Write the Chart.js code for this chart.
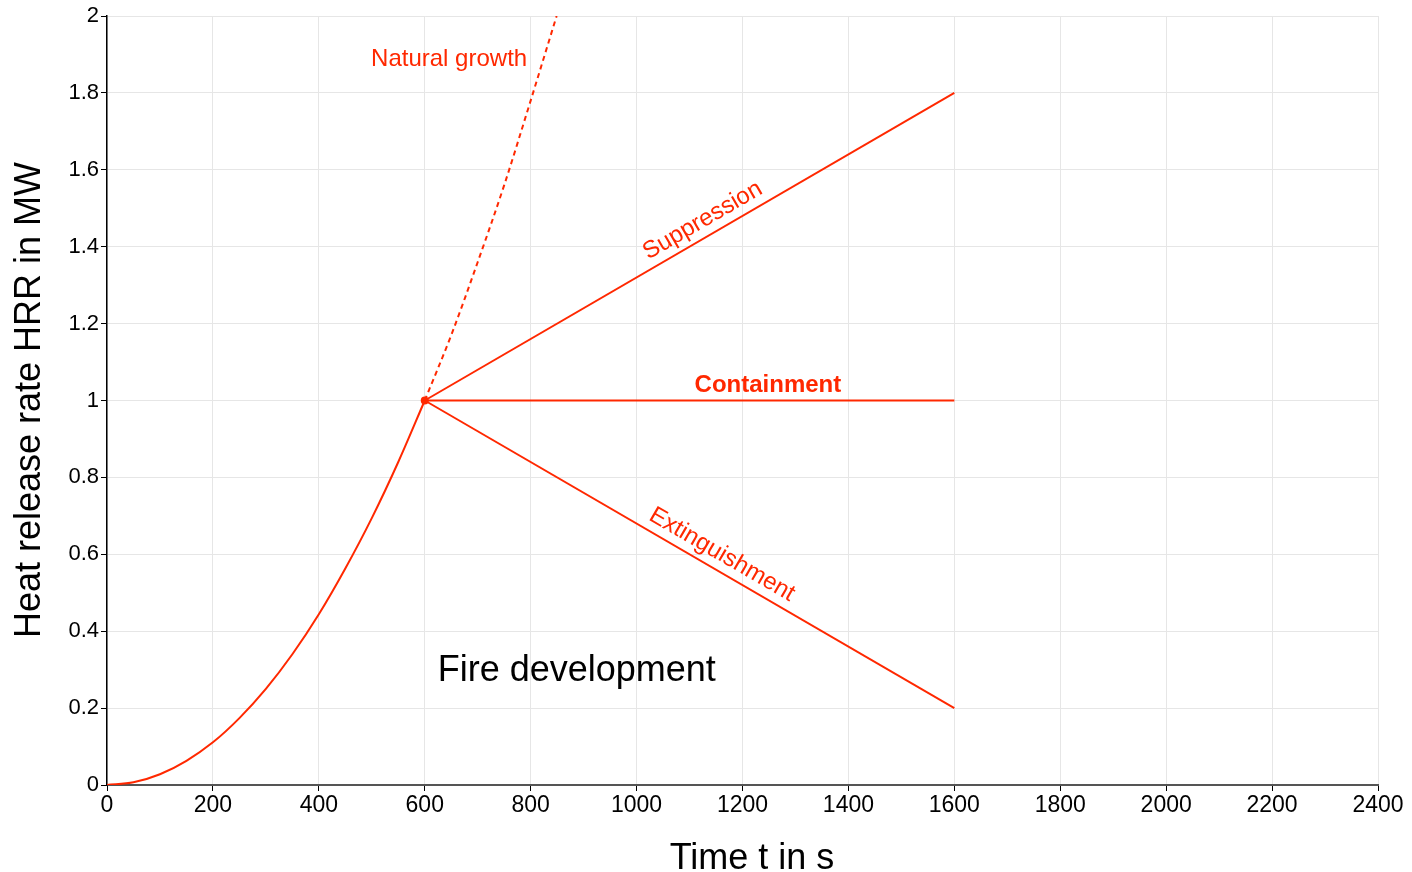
<!DOCTYPE html>
<html>
<head>
<meta charset="utf-8">
<script src="https://cdn.jsdelivr.net/npm/chart.js@4/dist/chart.umd.min.js"></script>
<style>
html,body{margin:0;padding:0;background:#fff;}
#wrap{width:1412px;height:872px;position:relative;}
</style>
</head>
<body>
<div id="wrap"><canvas id="c" width="1412" height="872"></canvas></div>
<script>
// ---- data ----
const growthT   = [0, 50, 100, 150, 200, 250, 300, 350, 400, 450, 500, 550, 600];
const growthHRR = [0, 0.007, 0.028, 0.063, 0.111, 0.174, 0.25, 0.34, 0.444, 0.563, 0.694, 0.84, 1.0];
const naturalT   = [600, 650, 700, 750, 800, 849];
const naturalHRR = [1.0, 1.17, 1.36, 1.56, 1.78, 2.0];
const suppressionT   = [600, 1600];
const suppressionHRR = [1.0, 1.8];
const containmentT   = [600, 1600];
const containmentHRR = [1.0, 1.0];
const extinguishT   = [600, 1600];
const extinguishHRR = [1.0, 0.2];
const pointT = [600];
const pointHRR = [1.0];
const xTicks = [0, 200, 400, 600, 800, 1000, 1200, 1400, 1600, 1800, 2000, 2200, 2400];
const yTicks = [0, 0.2, 0.4, 0.6, 0.8, 1, 1.2, 1.4, 1.6, 1.8, 2];
const xTitle = 'Time t in s';
const yTitle = 'Heat release rate HRR in MW';

const RED = 'rgb(255,40,0)';
const FONT = '"Liberation Sans", Arial, sans-serif';

function pts(xs, ys){ return xs.map((x,i)=>({x:x, y:ys[i]})); }

function lineDs(xs, ys, extra){
  return Object.assign({
    data: pts(xs, ys), borderColor: RED, backgroundColor: RED,
    borderWidth: 2, pointRadius: 0, fill: false
  }, extra || {});
}

function onLine(xs, ys, t){ return ys[0] + (ys[1]-ys[0])*(t-xs[0])/(xs[1]-xs[0]); }

// text annotations (anchored in data coordinates)
const annotations = [
  {text:'Natural growth', x:646, y:1.886, size:24, bold:false, color:RED},
  {text:'Suppression', x:1140, y:onLine(suppressionT, suppressionHRR, 1140), size:24, bold:false, color:RED, along:[suppressionT, suppressionHRR], off:4},
  {text:'Containment', x:1248, y:1.0, size:24, bold:true, color:RED, along:[containmentT, containmentHRR], off:3},
  {text:'Extinguishment', x:1146, y:onLine(extinguishT, extinguishHRR, 1146), size:24, bold:false, color:RED, along:[extinguishT, extinguishHRR], off:4},
  {text:'Fire development', x:887, y:0.297, size:36, bold:false, color:'#000'}
];

const textPlugin = {
  id:'texts',
  afterDatasetsDraw(chart){
    const ctx = chart.ctx, xs = chart.scales.x, ys = chart.scales.y;
    ctx.save();
    annotations.forEach(a=>{
      ctx.font = (a.bold?'bold ':'') + a.size + 'px ' + FONT;
      ctx.fillStyle = a.color;
      const px = xs.getPixelForValue(a.x), py = ys.getPixelForValue(a.y);
      ctx.save();
      ctx.translate(px, py);
      if (a.along){
        const [lx, ly] = a.along;
        const dx = xs.getPixelForValue(lx[1]) - xs.getPixelForValue(lx[0]);
        const dy = ys.getPixelForValue(ly[1]) - ys.getPixelForValue(ly[0]);
        ctx.rotate(Math.atan2(dy, dx));
        ctx.textAlign = 'center'; ctx.textBaseline = 'bottom';
        ctx.fillText(a.text, 0, -a.off);
      } else {
        ctx.textAlign = 'center'; ctx.textBaseline = 'middle';
        ctx.fillText(a.text, 0, 0);
      }
      ctx.restore();
    });
    // axis titles
    ctx.fillStyle = '#000';
    ctx.font = '36px ' + FONT;
    ctx.textAlign = 'center'; ctx.textBaseline = 'middle';
    ctx.fillText(xTitle, 752, 859);
    ctx.save();
    ctx.translate(30, 400);
    ctx.rotate(-Math.PI/2);
    ctx.fillText(yTitle, 0, 0);
    ctx.restore();
    ctx.restore();
  }
};

new Chart(document.getElementById('c'), {
  type:'line',
  data:{
    datasets:[
      lineDs(growthT, growthHRR, {cubicInterpolationMode:'monotone'}),
      lineDs(naturalT, naturalHRR, {cubicInterpolationMode:'monotone', borderDash:[5,4]}),
      lineDs(suppressionT, suppressionHRR),
      lineDs(containmentT, containmentHRR),
      lineDs(extinguishT, extinguishHRR),
      lineDs(pointT, pointHRR, {pointRadius:4, pointBorderWidth:0, showLine:false})
    ]
  },
  options:{
    responsive:false, animation:false,
    layout:{padding:{left:0, right:34, top:16, bottom:0}},
    plugins:{legend:{display:false}, tooltip:{enabled:false}},
    scales:{
      x:{
        type:'linear', min:0, max:2400,
        afterBuildTicks(s){ s.ticks = xTicks.map(v=>({value:v})); },
        afterFit(s){ s.height = 87; },
        grid:{color:'#e6e6e6', lineWidth:1, tickLength:6, tickColor:'#000', drawTicks:true},
        border:{color:'#555', width:2},
        ticks:{color:'#000', font:{family:FONT, size:23}, padding:1, maxRotation:0, autoSkip:false,
          callback:v=>String(v)}
      },
      y:{
        type:'linear', min:0, max:2,
        afterBuildTicks(s){ s.ticks = yTicks.map(v=>({value:v})); },
        afterFit(s){ s.width = 107; },
        grid:{color:'#e6e6e6', lineWidth:1, tickLength:6, tickColor:'#000', drawTicks:true},
        border:{color:'#000', width:1.5},
        ticks:{color:'#000', font:{family:FONT, size:22}, padding:2, autoSkip:false,
          callback:v=>String(Math.round(v*10)/10)}
      }
    }
  },
  plugins:[textPlugin]
});
</script>
</body>
</html>
